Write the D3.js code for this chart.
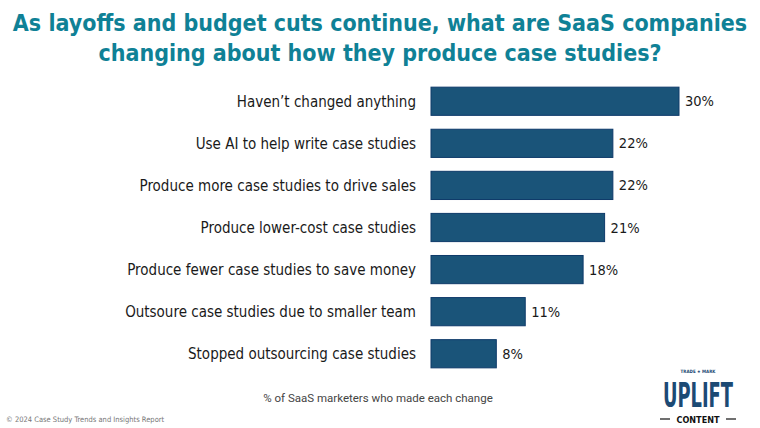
<!DOCTYPE html>
<html>
<head>
<meta charset="utf-8">
<script src="https://cdn.jsdelivr.net/npm/d3@7"></script>
<style>
  body { margin: 0; background: #fff; }
  svg { display: block; }
</style>
</head>
<body>
<svg id="chart" width="760" height="428"></svg>
<script>
const categories = [
  "Haven\u2019t changed anything",
  "Use AI to help write case studies",
  "Produce more case studies to drive sales",
  "Produce lower-cost case studies",
  "Produce fewer case studies to save money",
  "Outsoure case studies due to smaller team",
  "Stopped outsourcing case studies",
];
// bar lengths; labels show them rounded
const values = [30, 22, 22, 21, 18.4, 11.4, 7.9];
const titleLines = [
  "As layoffs and budget cuts continue, what are SaaS companies",
  "changing about how they produce case studies?",
];
const axisCaption = "% of SaaS marketers who made each change";
const footnote = "\u00a9 2024 Case Study Trends and Insights Report";

const data = categories.map((c, i) => ({ category: c, value: values[i] }));

const svg = d3.select("#chart");
const condensed = "'DejaVu Sans Condensed', 'Liberation Sans Narrow', sans-serif";

// title
svg.append("g")
  .selectAll("text")
  .data(titleLines)
  .join("text")
  .attr("x", 380)
  .attr("y", (d, i) => 31 + i * 30)
  .attr("text-anchor", "middle")
  .attr("font-family", condensed)
  .attr("font-weight", "bold")
  .attr("font-size", 23)
  .attr("fill", "#0f8196")
  .text((d) => d);

const xScale = d3.scaleLinear().domain([0, 30]).range([431, 679]);
const yScale = d3.scaleBand()
  .domain(categories)
  .range([80, 375])
  .paddingInner(0.33)
  .paddingOuter(0.17);

const rows = svg.append("g").selectAll("g").data(data).join("g");

rows.append("rect")
  .attr("x", xScale(0))
  .attr("y", (d) => yScale(d.category))
  .attr("width", (d) => xScale(d.value) - xScale(0))
  .attr("height", yScale.bandwidth())
  .attr("fill", "#1a5479")
  .attr("stroke", "#0e3a6a")
  .attr("stroke-width", 1);

rows.append("text")
  .attr("x", 416)
  .attr("y", (d) => yScale(d.category) + yScale.bandwidth() / 2)
  .attr("dy", "0.35em")
  .attr("text-anchor", "end")
  .attr("font-family", condensed)
  .attr("font-size", 15)
  .attr("fill", "#1a1a1a")
  .text((d) => d.category);

rows.append("text")
  .attr("x", (d) => xScale(d.value) + 6)
  .attr("y", (d) => yScale(d.category) + yScale.bandwidth() / 2)
  .attr("dy", "0.35em")
  .attr("font-family", condensed)
  .attr("font-size", 14.5)
  .attr("fill", "#1a1a1a")
  .text((d) => Math.round(d.value) + "%");

svg.append("text")
  .attr("x", 378)
  .attr("y", 402)
  .attr("text-anchor", "middle")
  .attr("font-family", "Roboto, sans-serif")
  .attr("font-size", 11.5)
  .attr("fill", "#444")
  .text(axisCaption);

svg.append("text")
  .attr("x", 6)
  .attr("y", 422)
  .attr("font-family", condensed)
  .attr("font-size", 7.5)
  .attr("fill", "#777")
  .text(footnote);

// logo
const logo = svg.append("g").attr("transform", "translate(698, 0)");
logo.append("text")
  .attr("y", 373).attr("text-anchor", "middle")
  .attr("font-family", condensed).attr("font-size", 4.5).attr("font-weight", "bold")
  .attr("fill", "#1c4a74")
  .text("TRADE \u2605 MARK");
const big = logo.append("g");
const uplift = big.append("text")
  .attr("text-anchor", "middle")
  .attr("font-family", condensed).attr("font-size", 31).attr("font-weight", "bold")
  .attr("fill", "#1c4a74")
  .text("UPLIFT");
const sx = 70 / uplift.node().getComputedTextLength();
big.attr("transform", `translate(0, 407) scale(${sx}, 1.08)`);
logo.append("text")
  .attr("y", 423).attr("text-anchor", "middle")
  .attr("font-family", condensed).attr("font-size", 9).attr("font-weight", "bold")
  .attr("fill", "#111")
  .text("CONTENT");
logo.selectAll("line.dash")
  .data([-38, 28])
  .join("line")
  .attr("x1", (d) => d).attr("x2", (d) => d + 10)
  .attr("y1", 419).attr("y2", 419)
  .attr("stroke", "#111").attr("stroke-width", 1.2);
</script>
</body>
</html>
